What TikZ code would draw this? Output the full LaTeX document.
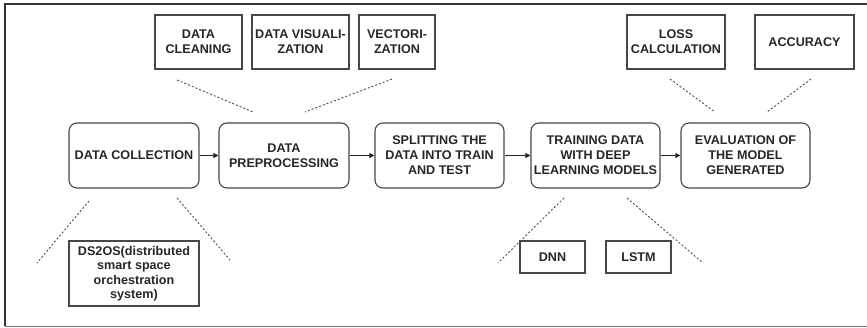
\documentclass[tikz,border=0pt]{standalone}
\usepackage{fontspec}
\setmainfont{Liberation Sans}
\usetikzlibrary{arrows.meta}
\begin{document}
\begin{tikzpicture}[x=1pt,y=-1pt,
  every node/.style={font=\bfseries\fontsize{12.6}{15}\selectfont, text=black!85, align=center, inner sep=0pt},
  mainbox/.style={draw=black!72, line width=1.1pt, rounded corners=8pt},
  subbox/.style={draw=black!72, line width=1.1pt},
  dotline/.style={draw=black!70, line width=0.9pt, dash pattern=on 2pt off 2pt},
  flow/.style={draw=black!85, line width=1.1pt, -{Triangle[length=5pt,width=5pt]}}]
\useasboundingbox (0,0) rectangle (867,327);
% frame
\draw[black!80, line width=1.6pt] (867,4) -- (5,4) -- (5,326);
\draw[black!55, line width=1pt] (5,326) -- (867,326);
% main row
\node[mainbox, minimum width=130pt, minimum height=65pt] (col) at (134,155.5) {DATA COLLECTION};
\node[mainbox, minimum width=130pt, minimum height=65pt] (pre) at (284,155.5) {DATA\\PREPROCESSING};
\node[mainbox, minimum width=129pt, minimum height=65pt] (spl) at (439.5,155.5) {SPLITTING THE\\DATA INTO TRAIN\\AND TEST};
\node[mainbox, minimum width=129pt, minimum height=65pt] (trn) at (595.5,155.5) {TRAINING DATA\\WITH DEEP\\LEARNING MODELS};
\node[mainbox, minimum width=129pt, minimum height=65pt] (evl) at (745.5,155.5) {EVALUATION OF\\THE MODEL\\GENERATED};
\draw[flow] (col) -- (pre);
\draw[flow] (pre) -- (spl);
\draw[flow] (spl) -- (trn);
\draw[flow] (trn) -- (evl);
% top boxes
\node[subbox, minimum width=87pt, minimum height=54pt] (cln) at (198.5,42) {DATA\\CLEANING};
\node[subbox, minimum width=97pt, minimum height=54pt] (vis) at (300.5,42) {DATA VISUALI-\\ZATION};
\node[subbox, minimum width=76pt, minimum height=54pt] (vec) at (397,42) {VECTORI-\\ZATION};
\node[subbox, minimum width=98pt, minimum height=54pt] (los) at (676,42) {LOSS\\CALCULATION};
\node[subbox, minimum width=99pt, minimum height=54pt] (acc) at (804.5,42) {ACCURACY};
% bottom boxes
\node[subbox, minimum width=130pt, minimum height=65pt, font=\bfseries\fontsize{12.6}{14.5}\selectfont] (ds) at (134,273.5) {DS2OS(distributed\\smart space\\orchestration\\system)};
\node[subbox, minimum width=65pt, minimum height=32pt] (dnn) at (552.5,257) {DNN};
\node[subbox, minimum width=65pt, minimum height=32pt] (lstm) at (638.5,257) {LSTM};
% dotted lines
\coordinate (a1) at (177,80); \coordinate (a2) at (253,112);
\coordinate (b1) at (392,79); \coordinate (b2) at (305,112);
\coordinate (c1) at (670,79); \coordinate (c2) at (715,112);
\coordinate (d1) at (811,79); \coordinate (d2) at (767,112);
\coordinate (e1) at (89,201); \coordinate (e2) at (37,263);
\coordinate (f1) at (177,198); \coordinate (f2) at (230,260);
\coordinate (g1) at (564,198); \coordinate (g2) at (498,263);
\coordinate (h1) at (627,198); \coordinate (h2) at (703,263);
\draw[dotline] (a1) -- (a2);
\draw[dotline] (b1) -- (b2);
\draw[dotline] (c1) -- (c2);
\draw[dotline] (d1) -- (d2);
\draw[dotline] (e1) -- (e2);
\draw[dotline] (f1) -- (f2);
\draw[dotline] (g1) -- (g2);
\draw[dotline] (h1) -- (h2);
\end{tikzpicture}
\end{document}
